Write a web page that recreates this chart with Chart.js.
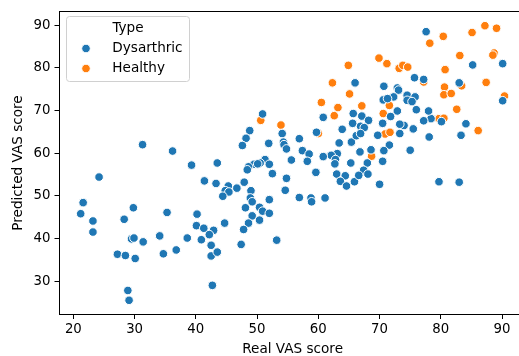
<!DOCTYPE html>
<html>
<head>
<meta charset="utf-8">
<script src="https://cdn.jsdelivr.net/npm/chart.js@4.4.1/dist/chart.umd.min.js"></script>
<style>
  html, body { margin: 0; padding: 0; background: #fff; overflow: hidden; }
  #wrap { width: 531px; height: 356px; }
</style>
</head>
<body>
<div id="wrap"><canvas id="grafico" width="531" height="356"></canvas></div>
<script>
// Datos (Real VAS score vs Predicted VAS score)
const legendTitle = 'Type';
const seriesNames = ['Dysarthric', 'Healthy'];

const dysReal = [
    31.3, 36.2, 24.2, 21.6, 21.2, 23.2, 23.2, 28.3, 29.8, 35.3,
    29.5, 29.9, 31.4, 34.1, 27.2, 28.5, 30.1, 34.7, 36.8, 28.9,
    29.1, 39.3, 43.5, 41.4, 43.3, 40.2, 40.1, 41.3, 42.9, 42.2,
    38.6, 40.9, 42.5, 42.5, 43.5, 42.7, 50.9, 60.8, 65.7, 65.6,
    63.9, 48.8, 48.2, 47.6, 54.1, 54.3, 54.4, 54.8, 51.9, 56.9,
    57.4, 58.5, 58.2, 59.7, 63.4, 65.4, 63.1, 62.1, 60.8, 62.8,
    62.7, 65.3, 59.6, 63.0, 64.4, 63.6, 64.6, 65.9, 55.6, 51.3,
    52.0, 50.5, 49.5, 50.1, 48.6, 48.4, 52.5, 45.3, 44.8, 45.4,
    44.4, 46.7, 47.9, 49.0, 48.9, 49.2, 52.0, 54.8, 54.6, 56.9,
    58.8, 58.9, 61.1, 48.1, 50.4, 50.9, 52.0, 49.2, 50.4, 48.6,
    47.8, 47.4, 53.2, 44.7, 77.6, 85.2, 90.1, 90.1, 66.0, 75.7,
    77.2, 83.0, 84.1, 83.3, 80.1, 78.1, 78.4, 78.0, 77.2, 75.5,
    74.0, 73.3, 73.3, 71.6, 71.8, 72.9, 70.5, 69.7, 70.7, 72.9,
    73.1, 72.3, 70.6, 71.3, 74.5, 75.8, 74.5, 75.3, 76.0, 67.1,
    68.2, 66.9, 67.5, 66.2, 66.9, 70.7, 75.0, 66.8, 68.0, 70.5,
    70.0, 79.7, 83.0, 68.6, 67.4, 66.6, 68.1
];
const dysPred = [
    62.0, 60.5, 54.4, 48.4, 45.8, 44.1, 41.5, 44.5, 47.2, 46.1,
    39.9, 40.1, 39.2, 40.6, 36.3, 36.0, 35.3, 36.4, 37.3, 27.8,
    25.5, 57.2, 57.7, 53.5, 52.9, 45.7, 43.0, 42.4, 41.9, 40.9,
    40.1, 39.7, 38.4, 35.9, 36.8, 29.0, 69.2, 68.4, 69.3, 67.0,
    65.6, 65.3, 63.5, 61.8, 64.6, 62.6, 62.0, 61.0, 62.3, 63.4,
    60.6, 59.8, 58.1, 64.9, 62.4, 62.6, 59.9, 59.5, 59.2, 58.5,
    57.5, 57.7, 55.5, 55.1, 54.7, 53.4, 52.3, 53.3, 58.4, 58.5,
    57.4, 57.7, 57.4, 57.5, 56.8, 56.1, 55.2, 52.3, 51.2, 50.9,
    49.9, 51.8, 53.2, 51.2, 49.5, 48.6, 49.1, 54.1, 51.3, 49.6,
    49.5, 48.6, 49.5, 47.2, 47.3, 46.4, 45.9, 45.3, 44.3, 43.6,
    42.1, 38.6, 39.6, 43.6, 88.5, 80.7, 81.0, 72.3, 76.5, 77.7,
    77.3, 76.5, 66.9, 64.2, 67.4, 63.8, 68.1, 69.9, 67.6, 65.7,
    66.5, 66.8, 64.6, 61.9, 68.6, 69.9, 67.0, 64.2, 75.7, 75.3,
    74.8, 73.2, 72.5, 72.8, 73.6, 73.2, 72.4, 72.1, 70.2, 68.7,
    67.7, 66.3, 66.0, 64.1, 64.6, 60.6, 60.7, 60.3, 57.7, 58.1,
    52.7, 53.3, 53.2, 60.8, 56.0, 54.8, 55.1
];

const healthyReal = [
    60.5, 63.2, 62.6, 50.6, 53.9, 60.0, 78.2, 80.4, 85.1, 87.2,
    89.1, 83.1, 88.7, 88.5, 80.7, 87.4, 90.4, 69.9, 71.2, 73.2,
    73.8, 74.6, 64.9, 62.3, 65.1, 77.2, 80.6, 80.5, 81.7, 83.4,
    82.6, 86.1, 79.7, 80.5, 70.9, 71.7, 70.6, 71.6, 67.1, 68.7
];
const healthyPred = [
    71.9, 70.7, 68.8, 67.7, 66.6, 64.6, 85.8, 87.4, 88.3, 89.9,
    89.3, 82.9, 83.5, 83.0, 79.6, 76.6, 73.4, 82.3, 81.0, 79.9,
    80.6, 80.2, 80.6, 76.5, 73.9, 76.7, 75.5, 73.7, 74.0, 75.8,
    70.3, 65.3, 68.1, 68.2, 64.5, 64.9, 69.3, 71.2, 71.1, 59.3
];

const xTicks = [20, 30, 40, 50, 60, 70, 80, 90];
const yTicks = [30, 40, 50, 60, 70, 80, 90];

const colores = ['#1f77b4', '#ff7f0e'];
const fuente = '"DejaVu Sans", sans-serif';

function zipPuntos(xs, ys) {
    return xs.map((x, i) => ({ x: x, y: ys[i] }));
}

// Marco de los ejes (estilo matplotlib) y leyenda dentro del área
const marcoYLeyenda = {
    id: 'marcoYLeyenda',
    afterDraw(chart) {
        const { ctx, chartArea: a } = chart;
        ctx.save();
        ctx.strokeStyle = '#000';
        ctx.lineWidth = 1;
        const l = Math.floor(a.left) + 0.5, t = Math.floor(a.top) + 0.5;
        const r = Math.floor(a.right) + 0.5, b = Math.floor(a.bottom) + 0.5;
        ctx.strokeRect(l, t, r - l, b - t);

        // leyenda
        const bx = 66.5, by = 16.5, bw = 123, bh = 65;
        ctx.beginPath();
        ctx.roundRect(bx, by, bw, bh, 3);
        ctx.fillStyle = 'rgba(255,255,255,0.8)';
        ctx.fill();
        ctx.strokeStyle = '#d0d0d0';
        ctx.stroke();

        ctx.fillStyle = '#000';
        ctx.font = '13.6px ' + fuente;
        ctx.textBaseline = 'middle';
        ctx.textAlign = 'center';
        ctx.fillText(legendTitle, bx + bw / 2, 28.5);
        ctx.textAlign = 'left';
        seriesNames.forEach((name, i) => {
            const cy = 48.5 + i * 20;
            ctx.beginPath();
            ctx.arc(86, cy, 4.3, 0, Math.PI * 2);
            ctx.fillStyle = colores[i];
            ctx.fill();
            ctx.strokeStyle = '#fff';
            ctx.lineWidth = 1;
            ctx.stroke();
            ctx.fillStyle = '#000';
            ctx.fillText(name, 112.3, cy);
        });
        ctx.restore();
    }
};

const canvas = document.getElementById('grafico');
new Chart(canvas, {
    type: 'scatter',
    data: {
        datasets: [
            {
                label: seriesNames[0],
                data: zipPuntos(dysReal, dysPred),
                backgroundColor: colores[0],
                borderColor: '#ffffff',
                borderWidth: 1,
                pointRadius: 4.3,
                pointHoverRadius: 4.3
            },
            {
                label: seriesNames[1],
                data: zipPuntos(healthyReal, healthyPred),
                backgroundColor: colores[1],
                borderColor: '#ffffff',
                borderWidth: 1,
                pointRadius: 4.3,
                pointHoverRadius: 4.3
            }
        ]
    },
    options: {
        responsive: false,
        animation: false,
        devicePixelRatio: 1,
        layout: { padding: { left: 0, top: 9, right: 2, bottom: 0 } },
        plugins: {
            legend: { display: false },
            tooltip: { enabled: false }
        },
        scales: {
            x: {
                type: 'linear',
                min: 17.74,
                max: 93.86,
                afterBuildTicks: s => { s.ticks = xTicks.map(v => ({ value: v })); },
                afterFit: s => { s.height = 42; },
                grid: { display: true, drawOnChartArea: false, drawTicks: true, tickLength: 5, tickColor: '#000', tickWidth: 1 },
                border: { display: false },
                ticks: { color: '#000', font: { family: fuente, size: 13.3 }, padding: 3, maxRotation: 0 },
                title: {
                    display: true, text: 'Real VAS score', color: '#000',
                    font: { family: fuente, size: 13.6, lineHeight: 1 },
                    padding: { top: 0, bottom: 0 }
                }
            },
            y: {
                type: 'linear',
                min: 22.28,
                max: 93.12,
                afterBuildTicks: s => { s.ticks = yTicks.map(v => ({ value: v })); },
                afterFit: s => { s.width = 59.5; },
                grid: { display: true, drawOnChartArea: false, drawTicks: true, tickLength: 5, tickColor: '#000', tickWidth: 1 },
                border: { display: false },
                ticks: { color: '#000', font: { family: fuente, size: 13.3 }, padding: 4 },
                title: {
                    display: true, text: 'Predicted VAS score', color: '#000',
                    font: { family: fuente, size: 13.6, lineHeight: 1 },
                    padding: { top: 11.5, bottom: 0 }
                }
            }
        }
    },
    plugins: [marcoYLeyenda]
});
</script>
</body>
</html>
